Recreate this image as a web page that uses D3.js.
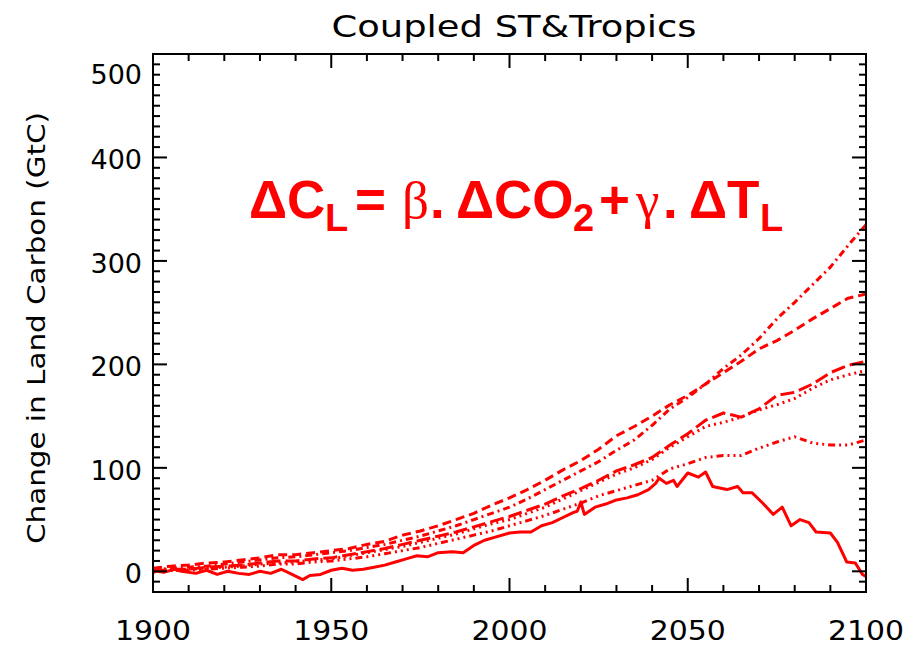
<!DOCTYPE html>
<html>
<head>
<meta charset="utf-8">
<script src="https://cdn.jsdelivr.net/npm/d3@7/dist/d3.min.js"></script>
<style>
  html, body { margin: 0; padding: 0; background: #fff; }
  svg { display: block; }
</style>
</head>
<body>
<svg id="chart" width="906" height="647"></svg>
<script>
// ---------- data ----------
const years = [1900,1905,1910,1915,1920,1925,1930,1935,1940,1945,1950,1955,1960,1965,1970,1975,1980,1985,1990,1995,2000,2005,2010,2015,2020,2025,2030,2035,2040,2045,2050,2055,2060,2065,2070,2075,2080,2085,2090,2095,2100];
const dashDotValues   = [1,3,4,5,7,9,11,13,14,16,18,20,23,26,30,34,39,44,50,56,62,70,79,88,97,106,117,127,141,157,168,181,196,209,225,244,260,277,294,315,335];
const dashedValues    = [3,5,6,8,9,11,13,16,16,18,20,22,26,29,35,39,44,50,56,64,71,79,88,98,107,118,131,140,150,161,170,181,192,203,215,223,233,244,254,264,268];
const longDashValues  = [0,2,2,4,5,6,8,10,10,12,13,16,19,22,26,30,34,38,43,48,53,59,65,73,80,88,97,103,110,122,133,146,153,149,157,170,173,181,192,199,203];
const dottedValues    = [-1,1,2,3,4,5,7,8,9,11,12,15,18,21,24,28,32,36,41,46,50,56,62,70,78,86,94,100,108,120,130,140,144,149,156,161,167,177,185,190,194];
const dashDot3Values  = [0,1,1,2,3,4,5,7,7,9,10,12,14,17,20,23,27,31,35,39,44,49,54,60,66,73,78,83,88,99,104,110,112,112,119,125,130,124,122,122,127];
const solidYears  = [1900,1903,1906,1908,1912,1915,1918,1921,1924,1927,1930,1933,1936,1939,1942,1944,1947,1950,1953,1956,1959,1962,1965,1968,1971,1974,1977,1980,1984,1987,1990,1993,1996,2000,2003,2006,2009,2012,2015,2018,2019,2020,2021,2024,2027,2030,2033,2036,2039,2041,2042,2044,2046,2047,2050,2053,2055,2057,2061,2064,2065.5,2068,2071,2074,2076.5,2079,2081.5,2084,2086,2090,2092,2094.6,2097,2099,2100];
const solidValues = [1,-1,2,0,-2,1,-3,0,-2,-3,0,-2,2,-3,-8,-4,-3,1,3,1,2,4,6,9,12,15,14,18,19,18,25,30,33,37,38,38,44,47,52,57,58,67,55,62,65,69,71,74,79,85,90,85,88,82,95,91,96,82,79,82,76,76,66,55,62,44,50,47,38,37,28,9,8,-3,-5];

const xTickValues = [1900,1950,2000,2050,2100];
const xTickLabels = ["1900","1950","2000","2050","2100"];
const yTickValues = [0,100,200,300,400,500];
const yTickLabels = ["0","100","200","300","400","500"];

const titleText = "Coupled ST&Tropics";
const yAxisTitle = "Change in Land Carbon (GtC)";

// ---------- layout ----------
const svg = d3.select("#chart");
const pLeft = 153, pRight = 866, pTop = 54, pBottom = 592;
const x = d3.scaleLinear().domain([1900, 2100]).range([pLeft, pRight]);
const y = d3.scaleLinear().domain([-20, 500]).range([pBottom, pTop]);
const red = "#ff0000";

// ---------- series ----------
const series = [
  { ys: years, vs: dashDotValues,  dash: "7,4,2,4" },
  { ys: years, vs: dashedValues,   dash: "9,5" },
  { ys: years, vs: longDashValues, dash: "14,5" },
  { ys: years, vs: dottedValues,   dash: "2,4" },
  { ys: years, vs: dashDot3Values, dash: "7,4,2,4,2,4,2,4" },
  { ys: solidYears, vs: solidValues, dash: null }
];
const line = d3.line().x(d => x(d[0])).y(d => y(d[1]));
const plot = svg.append("g");
series.forEach(s => {
  const pts = s.ys.map((yr, i) => [yr, s.vs[i]]);
  plot.append("path")
    .attr("d", line(pts))
    .attr("fill", "none")
    .attr("stroke", red)
    .attr("stroke-width", 3)
    .attr("stroke-linejoin", "round")
    .attr("stroke-dasharray", s.dash);
});

// ---------- axes box and ticks ----------
const ax = svg.append("g").attr("stroke", "#000").attr("stroke-width", 2);
ax.append("rect").attr("x", pLeft).attr("y", pTop).attr("width", pRight - pLeft).attr("height", pBottom - pTop)
  .attr("fill", "none");
const xMinor = d3.range(1900, 2101, 10);
xMinor.forEach(v => {
  const len = (v % 50 === 0) ? 14 : 7;
  ax.append("line").attr("x1", x(v)).attr("x2", x(v)).attr("y1", pBottom).attr("y2", pBottom - len);
  ax.append("line").attr("x1", x(v)).attr("x2", x(v)).attr("y1", pTop).attr("y2", pTop + len);
});
const yMinor = d3.range(-20, 501, 10);
yMinor.forEach(v => {
  const len = (v % 100 === 0) ? 14 : 7;
  ax.append("line").attr("y1", y(v)).attr("y2", y(v)).attr("x1", pLeft).attr("x2", pLeft + len);
  ax.append("line").attr("y1", y(v)).attr("y2", y(v)).attr("x1", pRight).attr("x2", pRight - len);
});

// ---------- tick labels ----------
const tickFont = "DejaVu Sans";
xTickValues.forEach((v, i) => {
  svg.append("text").attr("x", x(v)).attr("y", 640)
    .attr("text-anchor", "middle").attr("font-family", tickFont).attr("font-size", 26)
    .attr("textLength", 76).attr("lengthAdjust", "spacingAndGlyphs")
    .text(xTickLabels[i]);
});
yTickValues.forEach((v, i) => {
  const yy = Math.max(y(v) + 12, 84);
  svg.append("text").attr("x", 142).attr("y", yy)
    .attr("text-anchor", "end").attr("font-family", tickFont).attr("font-size", 27)
    .text(yTickLabels[i]);
});

// ---------- titles ----------
svg.append("text").attr("x", 514).attr("y", 37)
  .attr("text-anchor", "middle").attr("font-family", tickFont).attr("font-size", 31)
  .attr("textLength", 365).attr("lengthAdjust", "spacingAndGlyphs")
  .text(titleText);
svg.append("text")
  .attr("transform", "translate(45,328) rotate(-90)")
  .attr("text-anchor", "middle").attr("font-family", tickFont).attr("font-size", 25)
  .attr("textLength", 432).attr("lengthAdjust", "spacingAndGlyphs")
  .text(yAxisTitle);

// ---------- equation ----------
const eq = svg.append("text").attr("fill", red).attr("font-family", "Liberation Sans, Arial, sans-serif")
  .attr("font-weight", "bold").attr("font-size", 53).attr("y", 218);
const pieces = [
  { t: "ΔC", x: 249 },
  { t: "L", x: 325, sub: true },
  { t: "=", x: 355 },
  { t: "β", x: 402, greek: true },
  { t: ".", x: 430 },
  { t: "ΔCO", x: 456 },
  { t: "2", x: 573, sub: true },
  { t: "+", x: 599 },
  { t: "γ", x: 636, greek: true },
  { t: ".", x: 663 },
  { t: "ΔT", x: 689 },
  { t: "L", x: 760, sub: true }
];
pieces.forEach(p => {
  const ts = eq.append("tspan").attr("x", p.x).attr("y", p.sub ? 231 : 218).text(p.t);
  if (p.sub) ts.attr("font-size", 38);
  if (p.greek) ts.attr("font-family", "Liberation Serif, serif").attr("font-weight", "normal");
});
</script>
</body>
</html>
